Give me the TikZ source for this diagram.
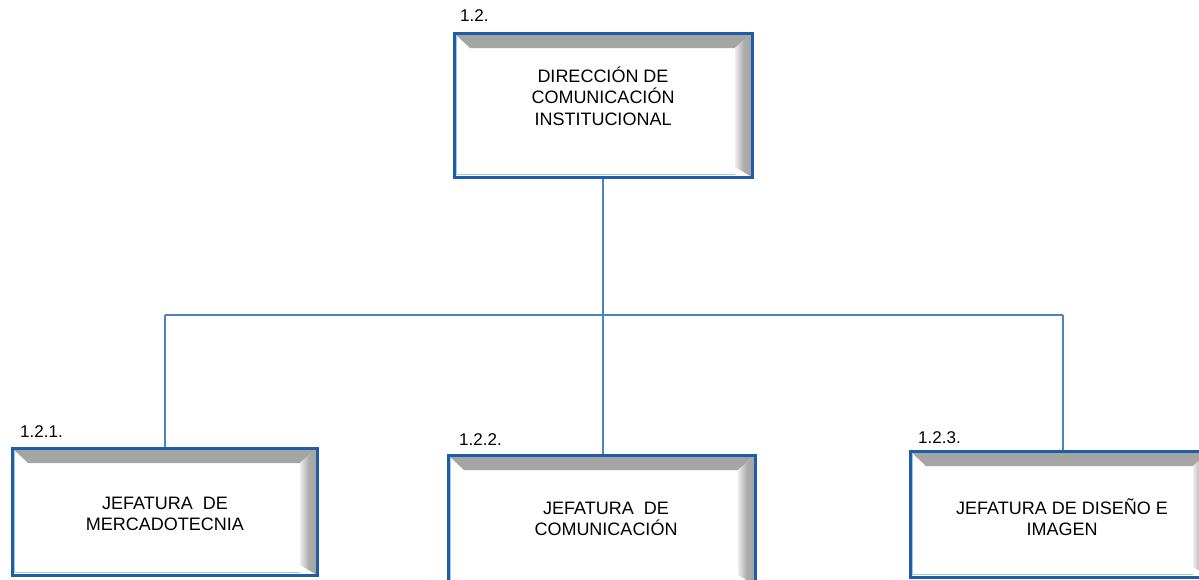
\documentclass[tikz,border=0pt]{standalone}
\usepackage{fontspec}
\setmainfont{Liberation Sans}
\definecolor{boxblue}{HTML}{1F5EA6}
\definecolor{innerblue}{HTML}{9CCBEF}
\definecolor{connblue}{HTML}{4F81BD}
\definecolor{bevgray}{HTML}{A3A3A3}
\tikzset{
  obox/.style={rectangle, draw=boxblue, line width=3pt, fill=white, inner sep=0pt,
    path picture={
      \shade[top color=bevgray, bottom color=bevgray!70]
        (path picture bounding box.north west) -- (path picture bounding box.north east)
        -- ([xshift=-17pt,yshift=-15pt]path picture bounding box.north east)
        -- ([xshift=16pt,yshift=-15pt]path picture bounding box.north west) -- cycle;
      \shade[left color=bevgray!20, right color=bevgray, middle color=bevgray!90]
        (path picture bounding box.north east) -- (path picture bounding box.south east)
        -- ([xshift=-17pt,yshift=10pt]path picture bounding box.south east)
        -- ([xshift=-17pt,yshift=-15pt]path picture bounding box.north east) -- cycle;
      \draw[innerblue, line width=1.6pt]
        ([xshift=2.5pt,yshift=-2pt]path picture bounding box.north west)
        -- ([xshift=2.5pt,yshift=2.5pt]path picture bounding box.south west)
        -- ([xshift=-17pt,yshift=2.5pt]path picture bounding box.south east);
    }},
  btext/.style={align=center, inner sep=0pt, font=\fontsize{18}{21.5}\selectfont},
  tag/.style={anchor=west, inner sep=0pt, font=\fontsize{17}{20}\selectfont},
  conn/.style={draw=connblue, line width=2pt}
}
\begin{document}
\begin{tikzpicture}[x=1pt,y=-1pt]
\useasboundingbox (0,0) rectangle (1199,579);
\clip (0,0) rectangle (1199,579);
% boxes
\node[obox, minimum width=298pt, minimum height=144pt] (top) at (603,105) {};
\node[obox, minimum width=305pt, minimum height=127pt] (b1) at (164.5,511.5) {};
\node[obox, minimum width=307pt, minimum height=130pt] (b2) at (601.5,520) {};
\node[obox, minimum width=300pt, minimum height=126pt] (b3) at (1060,514) {};
% texts
\node[btext] (ttop) at (603,96) {DIRECCIÓN DE\\COMUNICACIÓN\\INSTITUCIONAL};
\node[btext] (t1) at (165,514) {JEFATURA\ \ DE\\MERCADOTECNIA};
\node[btext] (t2) at (606,519) {JEFATURA\ \ DE\\COMUNICACIÓN};
\node[btext] (t3) at (1062,517) {JEFATURA DE DISEÑO E\\IMAGEN};
% tags
\node[tag] (l0) at (460,16) {1.2.};
\node[tag] (l1) at (20,432) {1.2.1.};
\node[tag] (l2) at (459,440) {1.2.2.};
\node[tag] (l3) at (918,438) {1.2.3.};
% connectors
\coordinate (bus) at (603,315);
\coordinate (busl) at (165,315);
\coordinate (busr) at (1063,315);
\draw[conn] (top.south) -- (bus);
\draw[conn] (busl) -- (busr);
\draw[conn] (busl) -- (busl |- b1.north);
\draw[conn] (bus) -- (bus |- b2.north);
\draw[conn] (busr) -- (busr |- b3.north);
\end{tikzpicture}
\end{document}
